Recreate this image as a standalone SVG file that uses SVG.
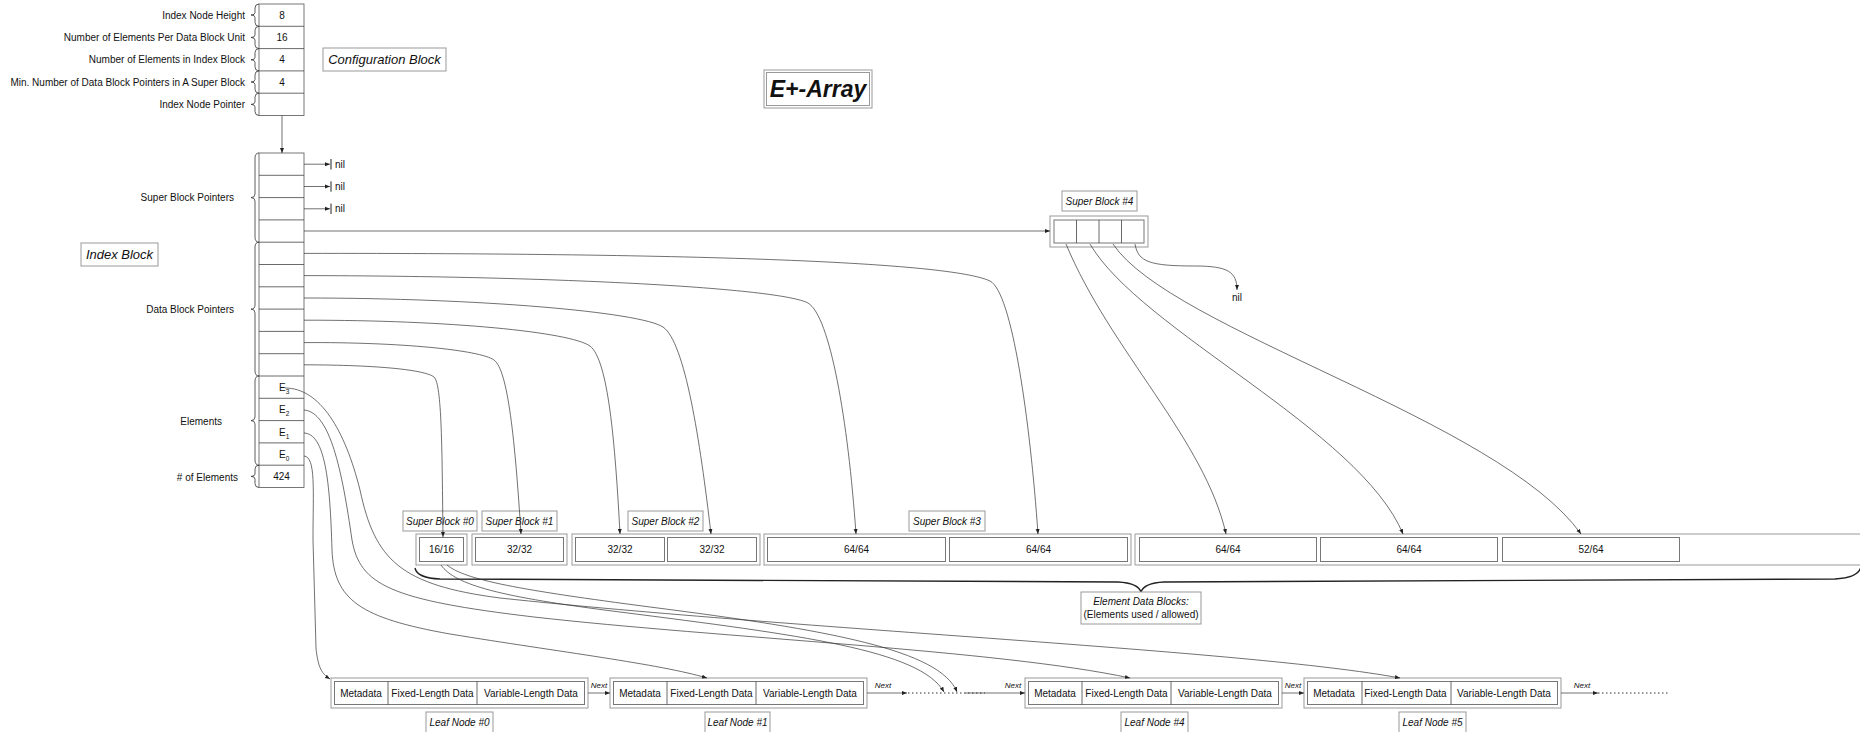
<svg xmlns="http://www.w3.org/2000/svg" width="1860" height="732" viewBox="0 0 1860 732">
<defs>
<style>
text{font-family:"Liberation Sans",Arial,sans-serif;fill:#111;font-size:10px}
.c{text-anchor:middle}
.e{text-anchor:end}
.it{font-style:italic}
.cell{fill:#fff;stroke:#555;stroke-width:0.8}
.box{fill:#fff;stroke:#999;stroke-width:1}
.inner{fill:#fff;stroke:#777;stroke-width:1}
.div{stroke:#444;stroke-width:0.8}
.ln{fill:none;stroke:#333;stroke-width:0.7}
.br{fill:none;stroke:#333;stroke-width:0.8}
.dot{fill:none;stroke:#333;stroke-width:1;stroke-dasharray:1.5 2.5}
</style>
<marker id="ah" viewBox="0 0 10 10" refX="10" refY="5" markerWidth="5" markerHeight="5" orient="auto" markerUnits="userSpaceOnUse"><path d="M0,1 L10,5 L0,9 z" fill="#222"/></marker>
<marker id="ahb" viewBox="0 0 10 10" refX="10" refY="5" markerWidth="7" markerHeight="7" orient="auto" markerUnits="userSpaceOnUse"><path d="M0,2 L10,5 L0,8 z" fill="#222"/></marker>
</defs>
<rect width="1860" height="732" fill="#fff"/>

<g id="title">
<rect x="764" y="70" width="108" height="38" fill="#fff" stroke="#999" stroke-width="1"/>
<rect x="766.5" y="72.5" width="103" height="33" fill="none" stroke="#999" stroke-width="1"/>
<text x="818" y="97" class="c" style="font-size:23px;font-weight:bold;font-style:italic">E+-Array</text>
</g>

<g id="config-block">
<rect x="259" y="4" width="45" height="111.5" class="cell"/>
<line x1="259" y1="26.3" x2="304" y2="26.3" class="div"/>
<line x1="259" y1="48.6" x2="304" y2="48.6" class="div"/>
<line x1="259" y1="70.9" x2="304" y2="70.9" class="div"/>
<line x1="259" y1="93.2" x2="304" y2="93.2" class="div"/>
<text x="282" y="18.5" class="c">8</text>
<text x="282" y="41" class="c">16</text>
<text x="282" y="63.2" class="c">4</text>
<text x="282" y="85.5" class="c">4</text>
<path class="br" d="M259,4 Q255,4 255,8 L255,12.5 Q255,15 251,15 Q255,15 255,17.5 L255,22.3 Q255,26.3 259,26.3"/>
<path class="br" d="M259,26.3 Q255,26.3 255,30.3 L255,35 Q255,37.5 251,37.5 Q255,37.5 255,40 L255,44.6 Q255,48.6 259,48.6"/>
<path class="br" d="M259,48.6 Q255,48.6 255,52.6 L255,57.3 Q255,59.8 251,59.8 Q255,59.8 255,62.3 L255,66.9 Q255,70.9 259,70.9"/>
<path class="br" d="M259,70.9 Q255,70.9 255,74.9 L255,79.5 Q255,82 251,82 Q255,82 255,84.5 L255,89.2 Q255,93.2 259,93.2"/>
<path class="br" d="M259,93.2 Q255,93.2 255,97.2 L255,101.9 Q255,104.4 251,104.4 Q255,104.4 255,106.9 L255,111.5 Q255,115.5 259,115.5"/>
<text x="245" y="18.5" class="e">Index Node Height</text>
<text x="245" y="41" class="e">Number of Elements Per Data Block Unit</text>
<text x="245" y="63.2" class="e">Number of Elements in Index Block</text>
<text x="245" y="85.5" class="e">Min. Number of Data Block Pointers in A Super Block</text>
<text x="245" y="107.9" class="e">Index Node Pointer</text>
<rect x="323" y="48" width="123" height="23" class="box"/>
<text x="384.5" y="64" class="c it" style="font-size:13px">Configuration Block</text>
</g>

<g id="index-block">
<rect x="259" y="153" width="45" height="334.5" class="cell"/>
<line x1="259" y1="175.3" x2="304" y2="175.3" class="div"/>
<line x1="259" y1="197.6" x2="304" y2="197.6" class="div"/>
<line x1="259" y1="219.9" x2="304" y2="219.9" class="div"/>
<line x1="259" y1="242.2" x2="304" y2="242.2" class="div"/>
<line x1="259" y1="264.5" x2="304" y2="264.5" class="div"/>
<line x1="259" y1="286.8" x2="304" y2="286.8" class="div"/>
<line x1="259" y1="309.1" x2="304" y2="309.1" class="div"/>
<line x1="259" y1="331.4" x2="304" y2="331.4" class="div"/>
<line x1="259" y1="353.7" x2="304" y2="353.7" class="div"/>
<line x1="259" y1="376" x2="304" y2="376" class="div"/>
<line x1="259" y1="398.3" x2="304" y2="398.3" class="div"/>
<line x1="259" y1="420.6" x2="304" y2="420.6" class="div"/>
<line x1="259" y1="442.9" x2="304" y2="442.9" class="div"/>
<line x1="259" y1="465.2" x2="304" y2="465.2" class="div"/>
<text x="279" y="391">E<tspan dy="3" style="font-size:6.5px">3</tspan></text>
<text x="279" y="413">E<tspan dy="3" style="font-size:6.5px">2</tspan></text>
<text x="279" y="435.5">E<tspan dy="3" style="font-size:6.5px">1</tspan></text>
<text x="279" y="457.5">E<tspan dy="3" style="font-size:6.5px">0</tspan></text>
<text x="281.5" y="480" class="c">424</text>
<path class="br" d="M259,153 Q255,153 255,158 L255,194 Q255,197.6 251,197.6 Q255,197.6 255,201 L255,237 Q255,242.2 259,242.2"/>
<path class="br" d="M259,242.2 Q255,242.2 255,247 L255,305 Q255,309.1 251,309.1 Q255,309.1 255,313 L255,371 Q255,376 259,376"/>
<path class="br" d="M259,376 Q255,376 255,381 L255,417 Q255,420.6 251,420.6 Q255,420.6 255,424 L255,460 Q255,465.2 259,465.2"/>
<path class="br" d="M259,465.2 Q255,465.2 255,469 L255,474 Q255,476.4 251,476.4 Q255,476.4 255,479 L255,483.5 Q255,487.5 259,487.5"/>
<text x="234" y="201" class="e">Super Block Pointers</text>
<text x="234" y="313" class="e">Data Block Pointers</text>
<text x="222" y="425" class="e">Elements</text>
<text x="238" y="480.5" class="e"># of Elements</text>
<rect x="81" y="243" width="77" height="23" class="box"/>
<text x="119.5" y="259" class="c it" style="font-size:13px">Index Block</text>
<text x="335" y="167.5">nil</text>
<text x="335" y="190">nil</text>
<text x="335" y="212">nil</text>
</g>

<g id="super-block-4">
<rect x="1062" y="191" width="75" height="20" class="box"/>
<text x="1099.5" y="205" class="c it">Super Block #4</text>
<rect x="1050" y="216" width="98" height="31" class="box"/>
<rect x="1054" y="220" width="90" height="23" class="inner"/>
<line x1="1076.5" y1="220" x2="1076.5" y2="243" class="div"/>
<line x1="1099" y1="220" x2="1099" y2="243" class="div"/>
<line x1="1121.5" y1="220" x2="1121.5" y2="243" class="div"/>
<text x="1237" y="301" class="c">nil</text>
</g>

<g id="data-blocks">
<rect x="403" y="511" width="74" height="20" class="box"/>
<text x="440" y="525" class="c it">Super Block #0</text>
<rect x="482" y="511" width="75" height="20" class="box"/>
<text x="519.5" y="525" class="c it">Super Block #1</text>
<rect x="628" y="511" width="75" height="20" class="box"/>
<text x="665.5" y="525" class="c it">Super Block #2</text>
<rect x="909" y="511" width="76" height="20" class="box"/>
<text x="947" y="525" class="c it">Super Block #3</text>

<rect x="416" y="534" width="51" height="31" class="box"/>
<rect x="419.5" y="537.5" width="44" height="24" class="inner"/>
<text x="441.5" y="553" class="c">16/16</text>

<rect x="472" y="534" width="95" height="31" class="box"/>
<rect x="475.5" y="537.5" width="88" height="24" class="inner"/>
<text x="519.5" y="553" class="c">32/32</text>

<rect x="572" y="534" width="188" height="31" class="box"/>
<rect x="575.5" y="537.5" width="89" height="24" class="inner"/>
<rect x="667.5" y="537.5" width="89" height="24" class="inner"/>
<text x="620" y="553" class="c">32/32</text>
<text x="712" y="553" class="c">32/32</text>

<rect x="764" y="534" width="367" height="31" class="box"/>
<rect x="767.5" y="537.5" width="178" height="24" class="inner"/>
<rect x="949.5" y="537.5" width="178" height="24" class="inner"/>
<text x="856.5" y="553" class="c">64/64</text>
<text x="1038.5" y="553" class="c">64/64</text>

<path d="M1870,534 H1135 V565 H1870" fill="#fff" stroke="#999" stroke-width="1"/>
<rect x="1139.5" y="537.5" width="177" height="24" class="inner"/>
<rect x="1320.5" y="537.5" width="177" height="24" class="inner"/>
<rect x="1502.5" y="537.5" width="177" height="24" class="inner"/>
<text x="1228" y="553" class="c">64/64</text>
<text x="1409" y="553" class="c">64/64</text>
<text x="1591" y="553" class="c">52/64</text>

<path d="M415,568 Q417,578 440,579 L1118,582 Q1138,583 1141,592 Q1144,583 1164,582 L1835,579 Q1858,578 1861,567" fill="none" stroke="#222" stroke-width="1.4"/>
<rect x="1081" y="592" width="120" height="32" class="box"/>
<text x="1141" y="605" class="c it">Element Data Blocks:</text>
<text x="1141" y="618" class="c">(Elements used / allowed)</text>
</g>

<g id="leaf-node-0">
<rect x="331" y="678" width="257" height="30" class="box"/>
<rect x="334.5" y="681.5" width="250" height="23" class="inner"/>
<line x1="388" y1="681.5" x2="388" y2="704.5" class="div"/>
<line x1="477" y1="681.5" x2="477" y2="704.5" class="div"/>
<text x="361" y="696.5" class="c">Metadata</text>
<text x="432.5" y="696.5" class="c">Fixed-Length Data</text>
<text x="531" y="696.5" class="c">Variable-Length Data</text>
<rect x="426" y="712" width="67" height="22" class="box"/>
<text x="459.5" y="726" class="c it">Leaf Node #0</text>
</g>
<g id="leaf-node-1">
<rect x="610" y="678" width="257" height="30" class="box"/>
<rect x="613.5" y="681.5" width="250" height="23" class="inner"/>
<line x1="667" y1="681.5" x2="667" y2="704.5" class="div"/>
<line x1="756" y1="681.5" x2="756" y2="704.5" class="div"/>
<text x="640" y="696.5" class="c">Metadata</text>
<text x="711.5" y="696.5" class="c">Fixed-Length Data</text>
<text x="810" y="696.5" class="c">Variable-Length Data</text>
<rect x="705" y="712" width="65" height="22" class="box"/>
<text x="737.5" y="726" class="c it">Leaf Node #1</text>
</g>
<g id="leaf-node-4">
<rect x="1025" y="678" width="257" height="30" class="box"/>
<rect x="1028.5" y="681.5" width="250" height="23" class="inner"/>
<line x1="1082" y1="681.5" x2="1082" y2="704.5" class="div"/>
<line x1="1171" y1="681.5" x2="1171" y2="704.5" class="div"/>
<text x="1055" y="696.5" class="c">Metadata</text>
<text x="1126.5" y="696.5" class="c">Fixed-Length Data</text>
<text x="1225" y="696.5" class="c">Variable-Length Data</text>
<rect x="1121" y="712" width="67" height="22" class="box"/>
<text x="1154.5" y="726" class="c it">Leaf Node #4</text>
</g>
<g id="leaf-node-5">
<rect x="1304" y="678" width="257" height="30" class="box"/>
<rect x="1307.5" y="681.5" width="250" height="23" class="inner"/>
<line x1="1362" y1="681.5" x2="1362" y2="704.5" class="div"/>
<line x1="1451" y1="681.5" x2="1451" y2="704.5" class="div"/>
<text x="1334" y="696.5" class="c">Metadata</text>
<text x="1405.5" y="696.5" class="c">Fixed-Length Data</text>
<text x="1504" y="696.5" class="c">Variable-Length Data</text>
<rect x="1399" y="712" width="67" height="22" class="box"/>
<text x="1432.5" y="726" class="c it">Leaf Node #5</text>
</g>

<g id="connectors">
<line x1="282" y1="115.5" x2="282" y2="153" class="ln" marker-end="url(#ah)"/>
<line x1="304" y1="164.2" x2="330" y2="164.2" class="ln" marker-end="url(#ah)"/>
<line x1="331" y1="159" x2="331" y2="169.5" stroke="#222" stroke-width="1"/>
<line x1="304" y1="186.5" x2="330" y2="186.5" class="ln" marker-end="url(#ah)"/>
<line x1="331" y1="181.3" x2="331" y2="191.7" stroke="#222" stroke-width="1"/>
<line x1="304" y1="208.8" x2="330" y2="208.8" class="ln" marker-end="url(#ah)"/>
<line x1="331" y1="203.6" x2="331" y2="214" stroke="#222" stroke-width="1"/>
<line x1="304" y1="231" x2="1050" y2="231" class="ln" marker-end="url(#ah)"/>

<path class="ln" marker-end="url(#ah)" d="M304,253.4 C700,253 950,262 990,281 C1012,292 1030,420 1038,534"/>
<path class="ln" marker-end="url(#ah)" d="M304,275.6 C560,276 780,288 808,303 C830,316 848,420 856,534"/>
<path class="ln" marker-end="url(#ah)" d="M304,298 C480,298 640,312 663,327 C685,342 700,440 711,534"/>
<path class="ln" marker-end="url(#ah)" d="M304,320.2 C450,320 570,332 590,346 C608,360 615,440 620,534"/>
<path class="ln" marker-end="url(#ah)" d="M304,342.6 C400,342 480,350 494,360 C508,370 515,440 521,534"/>
<path class="ln" marker-end="url(#ah)" d="M304,364.8 C380,365 425,370 434,377 C442,384 442,450 443,537"/>

<path class="ln" marker-end="url(#ah)" d="M1066,244 C1110,350 1205,440 1226,534"/>
<path class="ln" marker-end="url(#ah)" d="M1090,244 C1140,330 1360,430 1403,534"/>
<path class="ln" marker-end="url(#ah)" d="M1113,244 C1170,330 1500,420 1581,534"/>
<path class="ln" marker-end="url(#ah)" d="M1135,244 C1138,262 1150,266 1195,266 C1228,266 1237,272 1237,290"/>

<path class="ln" marker-end="url(#ah)" d="M304,456 C316,457 313,490 313,540 L316,648 C318,668 322,674 330,679"/>
<path class="ln" marker-end="url(#ah)" d="M304,433 C325,434 330,480 332,550 C334,600 360,618 450,634 C560,652 660,664 707,678"/>
<path class="ln" marker-end="url(#ah)" d="M304,410 C330,412 342,470 352,540 C360,585 390,600 534,617 C720,638 1000,650 1130,678"/>
<path class="ln" marker-end="url(#ah)" d="M285,388 C320,388 345,430 360,490 C375,560 400,585 500,598 C800,630 1250,650 1400,678"/>

<path class="ln" marker-end="url(#ah)" d="M441,565 C455,585 500,597 620,612 C800,635 920,650 944,692"/>
<path class="ln" marker-end="url(#ah)" d="M447,565 C465,580 520,590 650,607 C830,630 940,650 957,692"/>

<line x1="588" y1="693" x2="610" y2="693" class="ln" marker-end="url(#ah)"/>
<text x="599" y="688" class="c it" style="font-size:8px">Next</text>
<line x1="867" y1="693" x2="907" y2="693" class="ln" marker-end="url(#ah)"/>
<text x="883" y="688" class="c it" style="font-size:8px">Next</text>
<line x1="908" y1="693" x2="985" y2="693" class="dot"/>
<line x1="965" y1="693" x2="1025" y2="693" class="ln" marker-end="url(#ah)"/>
<text x="1013" y="688" class="c it" style="font-size:8px">Next</text>
<line x1="1282" y1="693" x2="1304" y2="693" class="ln" marker-end="url(#ah)"/>
<text x="1293" y="688" class="c it" style="font-size:8px">Next</text>
<line x1="1561" y1="693" x2="1598" y2="693" class="ln" marker-end="url(#ah)"/>
<text x="1582" y="688" class="c it" style="font-size:8px">Next</text>
<line x1="1598" y1="693" x2="1670" y2="693" class="dot"/>
</g>
</svg>
